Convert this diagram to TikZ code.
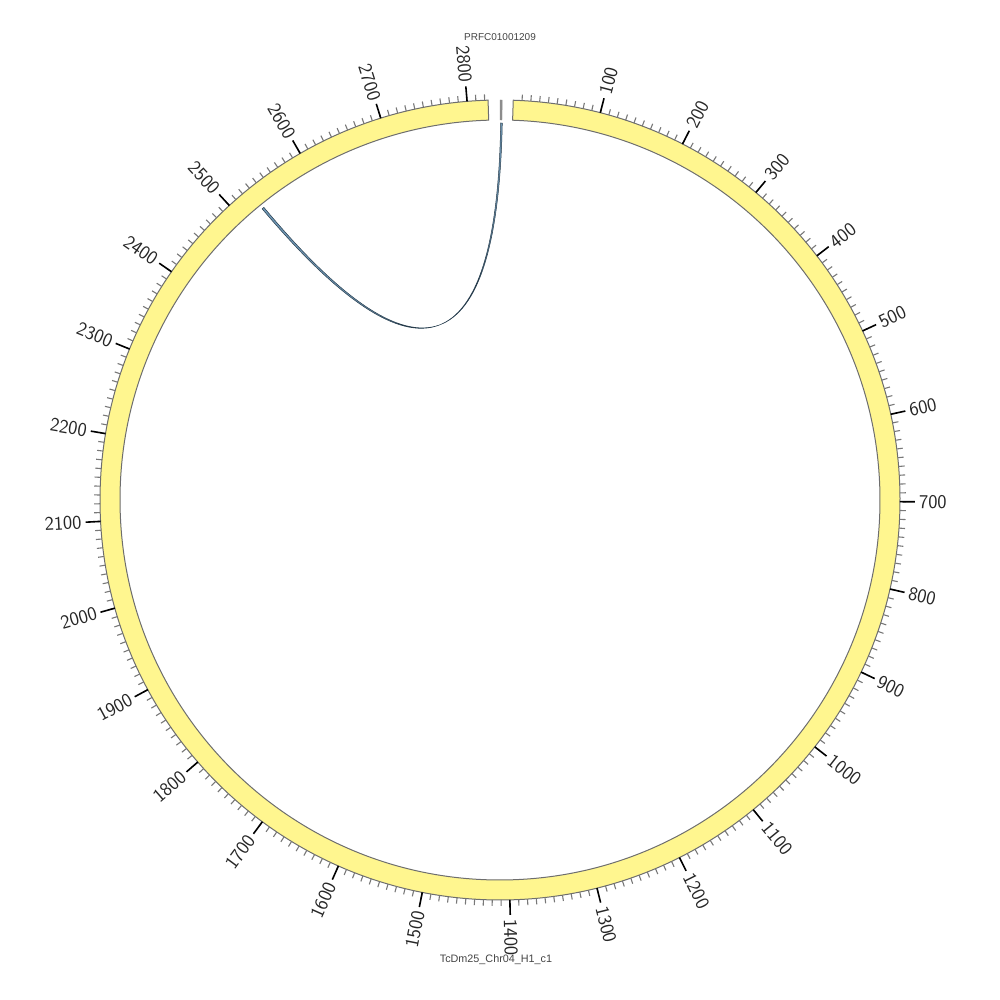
\documentclass[tikz,border=0pt]{standalone}
\usepackage{fontspec}
\usetikzlibrary{calc}
\newfontfamily\labfont{Liberation Sans}
\definecolor{chrfill}{RGB}{255,246,143}
\definecolor{chredge}{RGB}{110,110,110}
\definecolor{minorc}{RGB}{120,120,120}
\definecolor{segfill}{RGB}{140,140,140}
\definecolor{linkfill}{RGB}{110,150,180}
\definecolor{linkedge}{RGB}{40,60,75}
\definecolor{titlec}{RGB}{68,68,68}
\begin{document}
\begin{tikzpicture}[x=1pt,y=1pt,
  minortick/.style={draw=minorc,line width=1.1pt},
  majortick/.style={draw=black,line width=1.6pt},
  ticklabel/.style={inner sep=0pt,text=black!85,font=\sffamily\fontsize{19.5}{20}\selectfont},
  titlelabel/.style={inner sep=0pt,text=titlec},
  ring/.style={fill=chrfill,draw=chredge,line width=1pt},
  seg/.style={fill=segfill,draw=segfill,line width=0.4pt},
  ribbon/.style={fill=linkfill,draw=linkedge,line width=0.5pt}]
\useasboundingbox (0,0) rectangle (1000,1000);
\coordinate (c) at (500,500);
% main chromosome ring (positions 0..2824)
\path[ring] ([shift={(88.1:400)}]c) arc[start angle=88.1,end angle=-268.29,radius=400]
  -- ([shift={(-268.29:380)}]c) arc[start angle=-268.29,end angle=88.1,radius=380] -- cycle;
% small segment PRFC01001209
\path[seg] ([shift={(90:400)}]c) arc[start angle=90,end angle=89.7,radius=400]
  -- ([shift={(89.7:380)}]c) arc[start angle=89.7,end angle=90,radius=380] -- cycle;
% minor ticks
\foreach \p in {10,20,...,2820}{
  \pgfmathsetmacro\ang{88.1-0.1262*\p}
  \draw[minortick] ([shift={(\ang:400)}]c) -- ([shift={(\ang:406)}]c);
}
% major ticks and labels
\foreach \p in {100,200,...,2800}{
  \pgfmathsetmacro\ang{88.1-0.1262*\p}
  \ifnum\p<1450
    \pgfmathsetmacro\rot{\ang}\def\anc{west}
  \else
    \pgfmathsetmacro\rot{\ang+180}\def\anc{east}
  \fi
  \draw[majortick] ([shift={(\ang:400)}]c) -- ([shift={(\ang:415)}]c);
  \node[ticklabel,anchor=\anc,rotate=\rot] (t\p) at ([shift={(\ang:419)}]c) {\p};
}
% titles
\node[titlelabel,font=\labfont\fontsize{10}{12}\selectfont] (ttop) at (500,963) {PRFC01001209};
\node[titlelabel,font=\labfont\fontsize{10.8}{12}\selectfont] (tbot) at (496,40) {TcDm25\_Chr04\_H1\_c1};
% link ribbon
\coordinate (q) at (495,515);
\coordinate (a1) at ([shift={(-230.75:376)}]c);
\coordinate (a2) at ([shift={(-231.1:376)}]c);
\coordinate (b1) at ([shift={(89.9:377)}]c);
\coordinate (b2) at ([shift={(89.65:377)}]c);
\path[ribbon] (a1) .. controls ($(a1)!0.6667!(q)$) and ($(b1)!0.6667!(q)$) .. (b1)
  -- (b2) .. controls ($(b2)!0.6667!(q)$) and ($(a2)!0.6667!(q)$) .. (a2) -- cycle;
\end{tikzpicture}
\end{document}
